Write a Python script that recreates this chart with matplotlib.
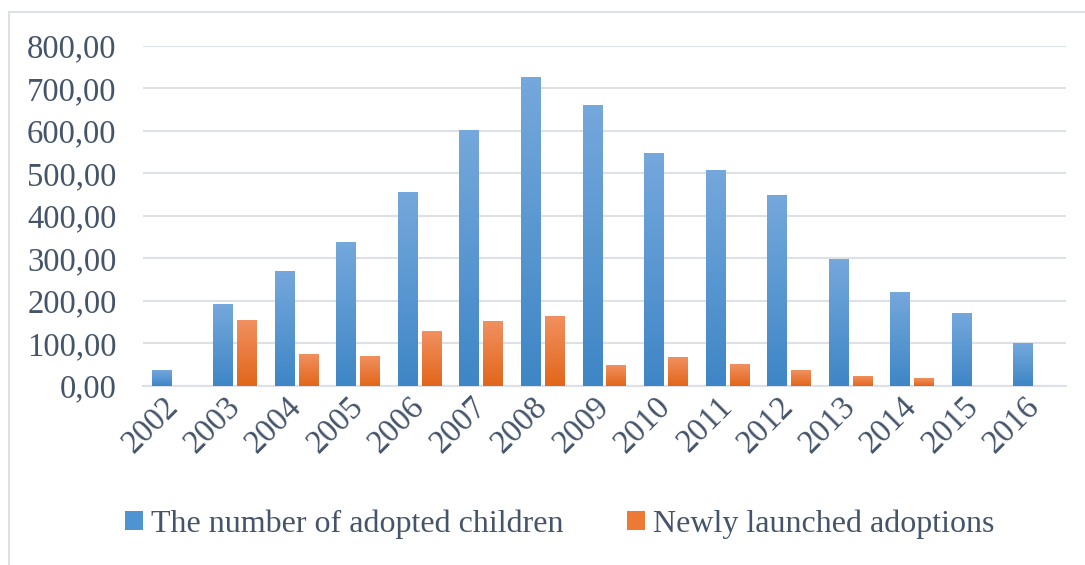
import numpy as np
import matplotlib.pyplot as plt
from matplotlib.colors import LinearSegmentedColormap
from matplotlib.patches import Patch, Rectangle

years = ["2002", "2003", "2004", "2005", "2006", "2007", "2008", "2009",
         "2010", "2011", "2012", "2013", "2014", "2015", "2016"]
adopted_children = [37, 192, 270, 338, 456, 602, 726, 660,
                    547, 507, 449, 298, 220, 171, 100]
new_adoptions = [0, 155, 75, 70, 129, 152, 164, 49,
                 68, 51, 37, 23, 18, 0, 0]
y_ticks = [0, 100, 200, 300, 400, 500, 600, 700, 800]

TEXT = "#44546A"
GRID = "#DCE1E8"
BLUE_TOP, BLUE_BOT = "#75A8DC", "#3E86C6"
ORANGE_TOP, ORANGE_BOT = "#F19060", "#E2661A"

plt.rcParams["font.family"] = ["Liberation Serif", "DejaVu Serif"]

fig = plt.figure(figsize=(10.85, 5.65), dpi=100)
ax = fig.add_axes([143 / 1085, 1 - 385.7 / 565, (1066 - 143) / 1085, 340 / 565])

# light outer frame of the chart area
fig.patches.append(Rectangle((9 / 1085, -0.1), 1.2, 1 - 12 / 565 + 0.1,
                             transform=fig.transFigure, fill=False,
                             edgecolor=GRID, linewidth=1.5, zorder=0))

x = np.arange(len(years))
offset, width = 0.195, 0.325


def gradient_bars(bars, top, bottom):
    cmap = LinearSegmentedColormap.from_list("g", [bottom, top])
    grad = np.linspace(0, 1, 256).reshape(-1, 1)
    for b in bars:
        h = b.get_height()
        if h <= 0:
            continue
        x0 = b.get_x()
        im = ax.imshow(grad, cmap=cmap, origin="lower", aspect="auto",
                       extent=(x0, x0 + b.get_width(), 0, h), zorder=3)
        im.set_clip_path(b)


blue = ax.bar(x - offset, adopted_children, width, color=BLUE_BOT, zorder=2)
orange = ax.bar(x + offset, new_adoptions, width, color=ORANGE_BOT, zorder=2)
gradient_bars(blue, BLUE_TOP, BLUE_BOT)
gradient_bars(orange, ORANGE_TOP, ORANGE_BOT)

ax.set_xlim(-0.5, len(years) - 0.5)
ax.set_ylim(0, 800)
ax.set_yticks(y_ticks)
ax.set_yticklabels([f"{v},00" for v in y_ticks])
ax.set_xticks(x)
ax.set_xticklabels(years, rotation=45, ha="right", va="center",
                   rotation_mode="anchor")

ax.grid(axis="y", color=GRID, linewidth=1.5, zorder=0)
ax.set_axisbelow(True)
for s in ["top", "right", "left"]:
    ax.spines[s].set_visible(False)
ax.spines["bottom"].set_color(GRID)
ax.spines["bottom"].set_linewidth(1.5)
ax.tick_params(axis="both", length=0, labelsize=23.5, colors=TEXT)
ax.tick_params(axis="y", pad=19)
ax.tick_params(axis="x", pad=12)

handles = [Patch(facecolor="#4F93D2"), Patch(facecolor="#EC7A35")]
fig.legend(handles, ["The number of adopted children", "Newly launched adoptions"],
           loc="center", bbox_to_anchor=(559.5 / 1085, 1 - 524 / 565), ncol=2,
           frameon=False, fontsize=23, labelcolor=TEXT,
           handlelength=0.55, handleheight=0.55, handletextpad=0.25,
           columnspacing=2.0)

fig.savefig("out.png", dpi=100)
